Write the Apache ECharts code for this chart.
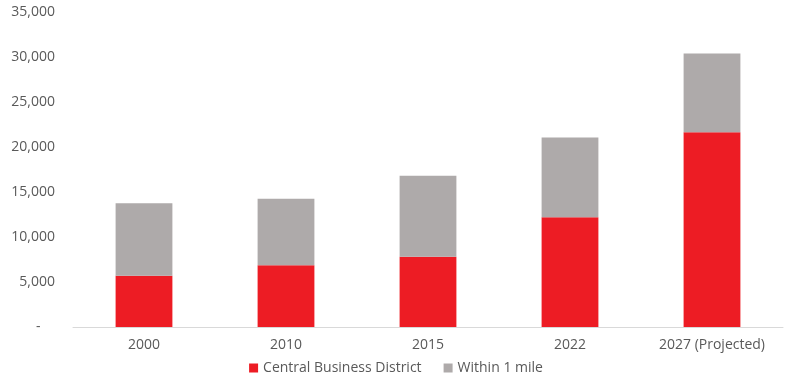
<!DOCTYPE html>
<html><head><meta charset="utf-8">
<script src="https://cdn.jsdelivr.net/npm/echarts@6/dist/echarts.min.js"></script>
<style>html,body{margin:0;padding:0;background:#fff}#c{width:792px;height:384px}</style>
</head><body><div id="c"></div>
<script>
const categories = ['2000', '2010', '2015', '2022', '2027 (Projected)'];
const cbd = [5700, 6850, 7800, 12200, 21650];
const withinMile = [8050, 7400, 9000, 8850, 8750];
const yMax = 35000;
const yInterval = 5000;

const chart = echarts.init(document.getElementById('c'));
const font = '"Open Sans", "Noto Sans", sans-serif';
chart.setOption({
  animation: false,
  textStyle: { fontFamily: font },
  grid: { left: 73, right: 9, top: 12, bottom: 57 },
  legend: {
    bottom: 4, left: 'center', itemWidth: 9, itemHeight: 9, itemGap: 22,
    icon: 'rect',
    textStyle: { color: '#595959', fontSize: 14, fontFamily: font },
    data: ['Central Business District', 'Within 1 mile']
  },
  xAxis: {
    type: 'category', data: categories,
    axisLine: { lineStyle: { color: '#d9d9d9' } },
    axisTick: { show: false },
    axisLabel: { color: '#595959', fontSize: 14, margin: 11, fontFamily: font }
  },
  yAxis: {
    type: 'value', min: 0, max: yMax, interval: yInterval,
    splitLine: { show: false },
    axisLine: { show: false }, axisTick: { show: false },
    axisLabel: {
      color: '#595959', fontSize: 14, margin: 18, fontFamily: font,
      formatter: v => v === 0 ? '-    ' : v.toLocaleString('en-US')
    }
  },
  series: [
    { name: 'Central Business District', type: 'bar', stack: 't', data: cbd,
      barWidth: '40%', itemStyle: { color: '#ED1C24' } },
    { name: 'Within 1 mile', type: 'bar', stack: 't', data: withinMile,
      barWidth: '40%', itemStyle: { color: '#AEAAAA' } }
  ]
});
</script></body></html>
